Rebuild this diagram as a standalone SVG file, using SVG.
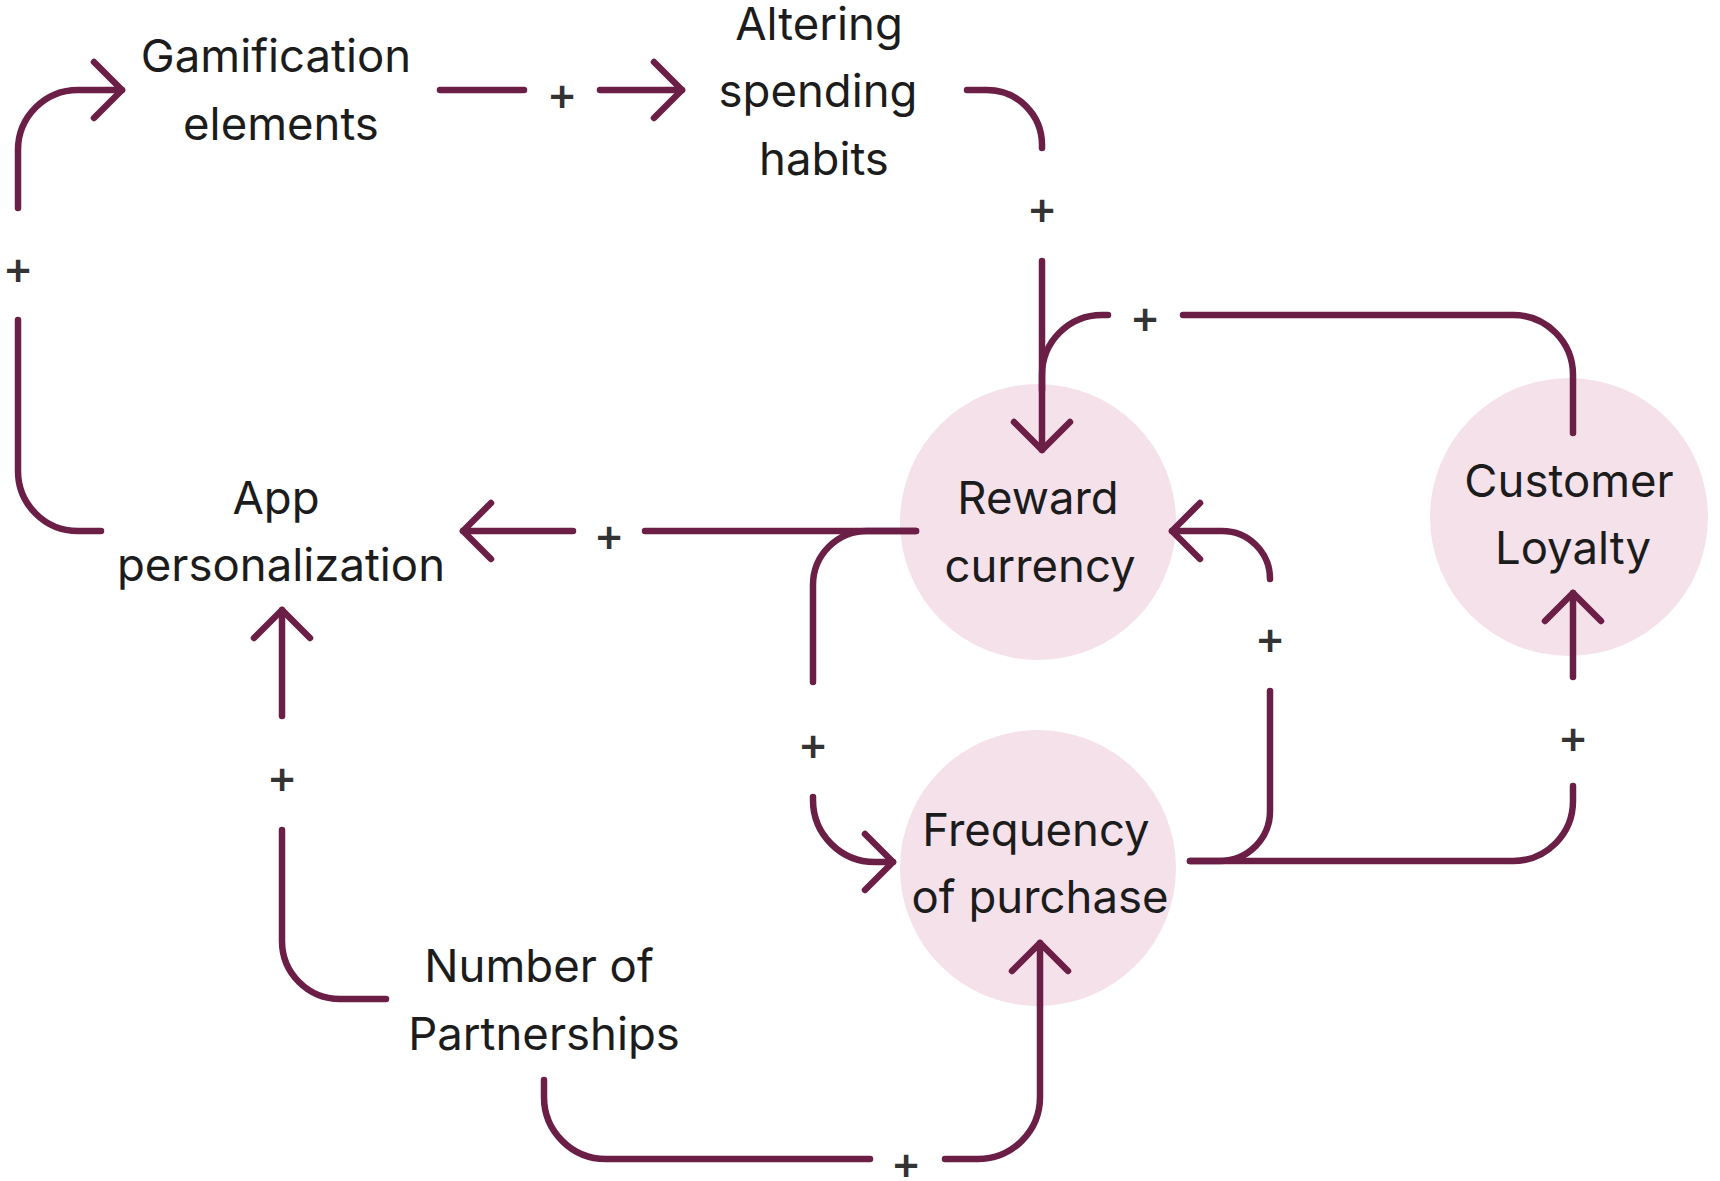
<svg xmlns="http://www.w3.org/2000/svg" width="1720" height="1181" viewBox="0 0 1720 1181">
<style>
.lbl{font-family:Inter,"Noto Sans","Liberation Sans",sans-serif;font-size:45.5px;fill:#1c1c1c;text-anchor:middle}
.pl{font-family:Inter,"Noto Sans","Liberation Sans",sans-serif;font-size:46px;font-weight:500;fill:#333;text-anchor:middle}
.c{fill:none;stroke:#6b1f47;stroke-width:6.5;stroke-linecap:round;stroke-linejoin:round}
.circ{fill:#f5e1ea}
</style>
<defs>
<marker id="arr" markerUnits="userSpaceOnUse" viewBox="-34 -34 40 68" refX="0" refY="0" markerWidth="40" markerHeight="68" orient="auto" overflow="visible">
<path d="M-28,-28 L0,0 L-28,28" fill="none" stroke="#6b1f47" stroke-width="6.5" stroke-linecap="round" stroke-linejoin="round"/>
</marker>
</defs>
<g id="node-reward"><circle class="circ" cx="1038" cy="522" r="138"/><text class="lbl" x="1038" y="514">Reward</text><text class="lbl" x="1040" y="582">currency</text></g>
<g id="node-loyalty"><circle class="circ" cx="1569" cy="517" r="139"/><text class="lbl" x="1569" y="497">Customer</text><text class="lbl" x="1573" y="564">Loyalty</text></g>
<g id="node-frequency"><circle class="circ" cx="1038" cy="868" r="138"/><text class="lbl" x="1036" y="846">Frequency</text><text class="lbl" x="1040" y="913">of purchase</text></g>
<g id="node-gamification"><text class="lbl" x="276" y="72">Gamification</text><text class="lbl" x="281" y="140">elements</text></g>
<g id="node-altering"><text class="lbl" x="819" y="40">Altering</text><text class="lbl" x="818" y="107">spending</text><text class="lbl" x="824" y="175">habits</text></g>
<g id="node-app"><text class="lbl" x="276" y="514">App</text><text class="lbl" x="281" y="581">personalization</text></g>
<g id="node-partnerships"><text class="lbl" x="539" y="982">Number of</text><text class="lbl" x="544" y="1050">Partnerships</text></g>
<g id="connectors">
<path class="c" d="M101 531 H78 A60 60 0 0 1 18 471 V320"/>
<path class="c" d="M18 208 V150 A60 60 0 0 1 78 90 H122" marker-end="url(#arr)"/>
<text class="pl" x="18" y="284">+</text>
<path class="c" d="M440 90 H524"/>
<path class="c" d="M600 90 H682" marker-end="url(#arr)"/>
<text class="pl" x="562" y="110">+</text>
<path class="c" d="M967 90 H987 A55 55 0 0 1 1042 145 V148"/>
<text class="pl" x="1042" y="224">+</text>
<path class="c" d="M1042 261 V450" marker-end="url(#arr)"/>
<path class="c" d="M1573 433 V375 A60 60 0 0 0 1513 315 H1183"/>
<text class="pl" x="1145" y="333">+</text>
<path class="c" d="M1108 315 H1102 A60 60 0 0 0 1042 375 V390"/>
<path class="c" d="M916 531 H645"/>
<path class="c" d="M573 531 H463" marker-end="url(#arr)"/>
<text class="pl" x="609" y="551">+</text>
<path class="c" d="M916 531 H867 A54 54 0 0 0 813 585 V682"/>
<text class="pl" x="813" y="760">+</text>
<path class="c" d="M813 797 V800 A62 62 0 0 0 875 862 H893" marker-end="url(#arr)"/>
<path class="c" d="M1190 861 H1220 A50 50 0 0 0 1270 811 V691"/>
<text class="pl" x="1270" y="654">+</text>
<path class="c" d="M1270 579 A48 48 0 0 0 1222 531 H1172" marker-end="url(#arr)"/>
<path class="c" d="M1190 861 H1513 A60 60 0 0 0 1573 801 V786"/>
<text class="pl" x="1573" y="753">+</text>
<path class="c" d="M1573 677 V593" marker-end="url(#arr)"/>
<path class="c" d="M386 999 H340 A58 58 0 0 1 282 941 V830"/>
<text class="pl" x="282" y="793">+</text>
<path class="c" d="M282 716 V610" marker-end="url(#arr)"/>
<path class="c" d="M544 1080 V1097 A62 62 0 0 0 606 1159 H870"/>
<text class="pl" x="906" y="1179">+</text>
<path class="c" d="M945 1159 H978 A62 62 0 0 0 1040 1097 V943" marker-end="url(#arr)"/>
</g>
</svg>
